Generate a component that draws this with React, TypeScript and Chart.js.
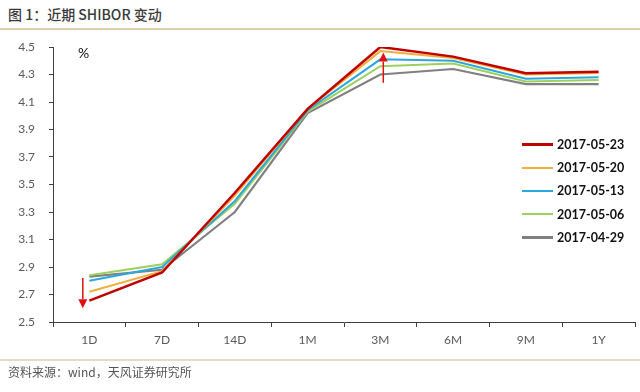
import React, { useEffect, useRef } from "react";
import { Chart, registerables } from "chart.js";

Chart.register(...registerables);

const categories = ["1D", "7D", "14D", "1M", "3M", "6M", "9M", "1Y"];
const s0523 = [2.655, 2.86, 3.44, 4.05, 4.5, 4.43, 4.31, 4.32];
const s0520 = [2.72, 2.87, 3.42, 4.05, 4.47, 4.42, 4.3, 4.31];
const s0513 = [2.8, 2.9, 3.38, 4.04, 4.41, 4.4, 4.27, 4.28];
const s0506 = [2.84, 2.92, 3.36, 4.03, 4.36, 4.38, 4.25, 4.26];
const s0429 = [2.83, 2.88, 3.3, 4.02, 4.3, 4.34, 4.23, 4.23];
const seriesNames = ["2017-05-23", "2017-05-20", "2017-05-13", "2017-05-06", "2017-04-29"];
const seriesColors = ["#C00000", "#F0AE3C", "#2AA8DE", "#9ED060", "#808080"];
const seriesWidths = [2.5, 2, 2, 2, 2.2];
const yTicks = [2.5, 2.7, 2.9, 3.1, 3.3, 3.5, 3.7, 3.9, 4.1, 4.3, 4.5];
// annotation arrows: category, start value, tip value, x offset in category fraction
const arrowCats = ["1D", "3M"];
const arrowFrom = [2.82, 4.24];
const arrowTo = [2.6, 4.46];
const arrowShift = [-0.09, 0.04];

const arrowPlugin = {
  id: "arrows",
  afterDatasetsDraw(chart: any) {
    const { ctx, scales } = chart;
    const xs = scales.x;
    const ys = scales.y;
    const catW = (xs.right - xs.left) / categories.length;
    ctx.save();
    ctx.strokeStyle = "#E01010";
    ctx.fillStyle = "#E01010";
    ctx.lineWidth = 1.5;
    arrowCats.forEach((c, i) => {
      const x = xs.getPixelForValue(categories.indexOf(c)) + arrowShift[i] * catW;
      const y1 = ys.getPixelForValue(arrowFrom[i]);
      const y2 = ys.getPixelForValue(arrowTo[i]);
      const dir = y2 > y1 ? 1 : -1;
      const head = 9;
      ctx.beginPath();
      ctx.moveTo(x, y1);
      ctx.lineTo(x, y2 - dir * head);
      ctx.stroke();
      ctx.beginPath();
      ctx.moveTo(x, y2);
      ctx.lineTo(x - 4.5, y2 - dir * head);
      ctx.lineTo(x + 4.5, y2 - dir * head);
      ctx.closePath();
      ctx.fill();
    });
    ctx.restore();
  },
};

export default function App() {
  const ref = useRef<HTMLCanvasElement | null>(null);
  useEffect(() => {
    document.body.style.margin = "0";
    const all = [s0523, s0520, s0513, s0506, s0429];
    const chart = new Chart(ref.current as HTMLCanvasElement, {
      type: "line",
      data: {
        labels: categories,
        datasets: all.map((d, i) => ({
          label: seriesNames[i],
          data: d,
          borderColor: seriesColors[i],
          backgroundColor: seriesColors[i],
          borderWidth: seriesWidths[i],
          pointRadius: 0,
          tension: 0,
        })),
      },
      options: {
        animation: false,
        responsive: false,
        maintainAspectRatio: false,
        layout: { padding: { top: 47, right: 5, left: 0, bottom: 0 } },
        plugins: { legend: { display: false }, tooltip: { enabled: false } },
        scales: {
          x: {
            type: "category",
            offset: true,
            grid: {
              offset: true,
              drawOnChartArea: false,
              drawTicks: true,
              tickLength: 5,
              color: "#404040",
            },
            border: { color: "#404040", width: 1 },
            ticks: {
              color: "#595959",
              font: { family: "Lato", size: 12 },
              padding: 6,
              maxRotation: 0,
            },
            afterFit: (s: any) => {
              s.height = 70;
            },
          },
          y: {
            min: 2.5,
            max: 4.5,
            afterBuildTicks: (s: any) => {
              s.ticks = yTicks.map((v) => ({ value: v }));
            },
            grid: {
              drawOnChartArea: false,
              drawTicks: true,
              tickLength: 4,
              color: "#404040",
            },
            border: { color: "#404040", width: 1 },
            ticks: {
              color: "#595959",
              font: { family: "Lato", size: 12 },
              padding: 14,
              callback: (v: any) => Number(v).toFixed(1),
            },
            afterFit: (s: any) => {
              s.width = 53;
            },
          },
        },
      },
      plugins: [arrowPlugin],
    } as any);
    return () => chart.destroy();
  }, []);

  return (
    <div style={{ position: "relative", width: 640, height: 392, background: "#fff", overflow: "hidden", fontFamily: "'Noto Sans CJK SC', sans-serif" }}>
      <div style={{ position: "absolute", left: 8, top: 4, fontSize: 14, color: "#3a3a3a", fontWeight: 500, lineHeight: "20px" }}>
        图 1：近期 SHIBOR 变动
      </div>
      <div style={{ position: "absolute", left: 0, top: 28, width: 640, height: 2, background: "#DCCFAE" }} />
      <canvas ref={ref} width={640} height={392} style={{ position: "absolute", left: 0, top: 0 }} />
      <div style={{ position: "absolute", left: 78, top: 44, fontSize: 14, color: "#111", fontFamily: "Lato" }}>%</div>
      <div style={{ position: "absolute", left: 522, top: 133 }}>
        {seriesNames.map((n, i) => (
          <div key={n} style={{ display: "flex", alignItems: "center", height: 23.2 }}>
            <div style={{ width: 31, height: seriesWidths[i] + 0.5, background: seriesColors[i], marginRight: 4 }} />
            <span style={{ fontFamily: "Lato", fontWeight: 700, fontSize: 12.5, color: "#111" }}>{n}</span>
          </div>
        ))}
      </div>
      <div style={{ position: "absolute", left: 0, top: 359, width: 640, height: 2, background: "#E6DCC4" }} />
      <div style={{ position: "absolute", left: 8, top: 363, fontSize: 12, color: "#555", lineHeight: "18px" }}>
        资料来源：wind，天风证券研究所
      </div>
    </div>
  );
}
